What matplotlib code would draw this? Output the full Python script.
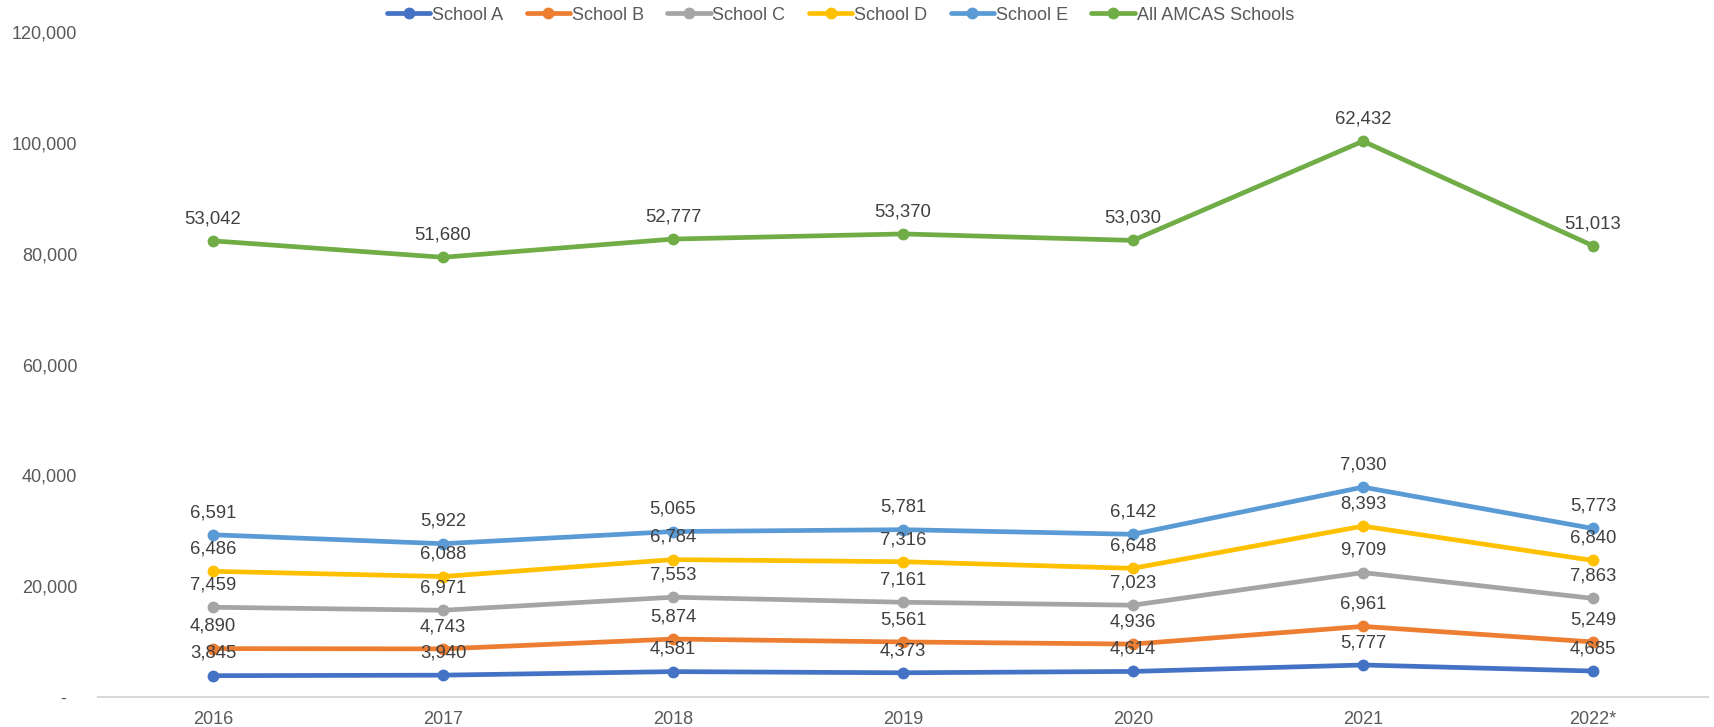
import matplotlib
matplotlib.use("Agg")
import matplotlib.pyplot as plt
import numpy as np
from matplotlib.ticker import FuncFormatter

years = ["2016", "2017", "2018", "2019", "2020", "2021", "2022*"]
series_names = ["School A", "School B", "School C", "School D", "School E", "All AMCAS Schools"]
school_a = [3845, 3940, 4581, 4373, 4614, 5777, 4685]
school_b = [4890, 4743, 5874, 5561, 4936, 6961, 5249]
school_c = [7459, 6971, 7553, 7161, 7023, 9709, 7863]
school_d = [6486, 6088, 6784, 7316, 6648, 8393, 6840]
school_e = [6591, 5922, 5065, 5781, 6142, 7030, 5773]
all_amcas = [53042, 51680, 52777, 53370, 53030, 62432, 51013]
colors = ["#4472C4", "#ED7D31", "#A5A5A5", "#FFC000", "#5B9BD5", "#70AD47"]

plt.rcParams['font.family'] = ['Liberation Sans', 'DejaVu Sans']

fig = plt.figure(figsize=(17.15, 7.27), dpi=100)
ax = fig.add_axes([98/1715, 1-697/727, (1708-98)/1715, (697-32)/727])

data = [school_a, school_b, school_c, school_d, school_e, all_amcas]
x = np.arange(len(years))
cum = np.zeros(len(years))
handles = []
for name, vals, col in zip(series_names, data, colors):
    vals = np.array(vals, dtype=float)
    cum = cum + vals
    h, = ax.plot(x, cum, color=col, lw=3.4, marker='o', markersize=7.5,
                 solid_capstyle='round', label=name, zorder=3)
    handles.append(h)
    for xi, yi, v in zip(x, cum, vals):
        ax.annotate(f"{int(v):,}", (xi, yi), xytext=(0, 16), textcoords='offset points',
                    ha='center', va='center', fontsize=13.3, color='#404040', zorder=4)

ax.set_xlim(-0.5, len(years) - 0.5)
ax.set_ylim(0, 120000)
ax.set_xticks(x)
ax.set_xticklabels(years)
ax.set_yticks(np.arange(0, 120001, 20000))
ax.yaxis.set_major_formatter(FuncFormatter(lambda v, p: "-  " if v == 0 else f"{int(v):,}"))
for s in ['top', 'right', 'left']:
    ax.spines[s].set_visible(False)
ax.spines['bottom'].set_color('#D9D9D9')
ax.spines['bottom'].set_linewidth(1.5)
ax.tick_params(axis='y', length=0, pad=15, labelsize=13, labelcolor='#595959')
ax.tick_params(axis='x', length=0, pad=10, labelsize=13, labelcolor='#595959')

leg = fig.legend(handles=handles, loc='center', bbox_to_anchor=(0.49, 1-15/727), ncol=6,
                 frameon=False, fontsize=13, handlelength=2.4, handletextpad=0.1,
                 columnspacing=1.3, labelcolor='#595959')

fig.savefig("out.png", dpi=100)
